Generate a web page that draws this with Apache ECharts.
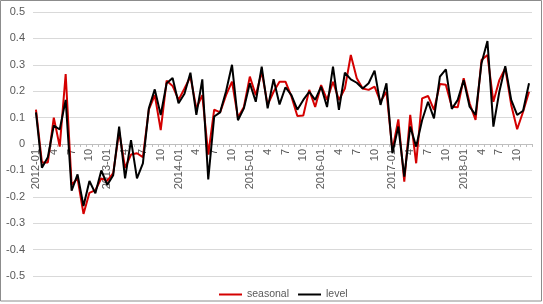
<!DOCTYPE html>
<html>
<head>
<meta charset="utf-8">
<script src="https://cdn.jsdelivr.net/npm/echarts@6/dist/echarts.min.js"></script>
<style>
html,body{margin:0;padding:0;background:#fff;}
#c{width:543px;height:304px;}
</style>
</head>
<body>
<div id="c"></div>
<script>
const years = [2012, 2013, 2014, 2015, 2016, 2017, 2018];
const monthLabels = ['01','2','3','4','5','6','7','8','9','10','11','12'];

const seasonal = [
  0.13, -0.07, -0.07, 0.10, -0.01, 0.265, -0.155, -0.13, -0.265, -0.185, -0.175, -0.13,
  -0.14, -0.11, 0.047, -0.09, -0.04, -0.035, -0.05, 0.13, 0.185, 0.053, 0.24, 0.22,
  0.167, 0.21, 0.255, 0.135, 0.185, -0.04, 0.13, 0.12, 0.185, 0.236, 0.10, 0.14,
  0.255, 0.185, 0.274, 0.148, 0.198, 0.236, 0.236, 0.18, 0.106, 0.108, 0.205, 0.14,
  0.223, 0.167, 0.236, 0.167, 0.21, 0.337, 0.249, 0.21, 0.205, 0.217, 0.16, 0.198,
  -0.023, 0.093, -0.143, 0.11, -0.073, 0.173, 0.182, 0.129, 0.227, 0.224, 0.141, 0.139,
  0.249, 0.154, 0.091, 0.318, 0.337, 0.16, 0.242, 0.287, 0.148, 0.056, 0.122, 0.198
];

const level = [
  0.12, -0.09, -0.05, 0.07, 0.055, 0.167, -0.177, -0.115, -0.235, -0.14, -0.187, -0.10,
  -0.155, -0.118, 0.066, -0.13, 0.015, -0.13, -0.073, 0.135, 0.207, 0.11, 0.23, 0.25,
  0.154, 0.19, 0.27, 0.11, 0.245, -0.134, 0.104, 0.12, 0.20, 0.30, 0.09, 0.135,
  0.23, 0.16, 0.293, 0.135, 0.245, 0.15, 0.215, 0.185, 0.13, 0.167, 0.198, 0.167,
  0.217, 0.14, 0.293, 0.129, 0.27, 0.245, 0.232, 0.21, 0.23, 0.278, 0.148, 0.23,
  -0.035, 0.066, -0.124, 0.066, -0.01, 0.09, 0.16, 0.097, 0.255, 0.283, 0.133, 0.167,
  0.242, 0.141, 0.11, 0.306, 0.39, 0.066, 0.198, 0.295, 0.167, 0.11, 0.126, 0.23
];

const categories = [];
years.forEach(y => monthLabels.forEach((m, k) => categories.push(k === 0 ? y + '-' + m : m)));

const GRID_TOP = 12, GRID_BOTTOM = 28, H = 304;
const plotH = H - GRID_TOP - GRID_BOTTOM;
const Y_MIN = -0.5, Y_MAX = 0.5;
// distance from plot bottom up to the zero line
const zeroOffset = plotH * (0 - Y_MIN) / (Y_MAX - Y_MIN);

const chart = echarts.init(document.getElementById('c'));
const font = "'Liberation Sans', Arial, sans-serif";
chart.setOption({
  animation: false,
  backgroundColor: '#fff',
  graphic: [{
    type: 'rect', silent: true, z: -1,
    shape: { x: 0.5, y: 0.5, width: 541, height: 300.5 },
    style: { fill: 'none', stroke: '#8c8c8c', lineWidth: 1 }
  }],
  grid: { left: 33, right: 11, top: GRID_TOP, bottom: GRID_BOTTOM, containLabel: false, outerBoundsMode: 'none' },
  legend: {
    top: 284, left: 214,
    icon: 'rect', itemWidth: 23, itemHeight: 2, itemGap: 9,
    textStyle: { color: '#595959', fontSize: 10.5, fontFamily: font },
    data: ['seasonal', 'level']
  },
  xAxis: {
    type: 'category',
    data: categories,
    boundaryGap: true,
    position: 'bottom',
    offset: -zeroOffset,
    axisLine: { onZero: false, lineStyle: { color: '#bfbfbf' } },
    axisTick: { show: true, interval: 0, length: 3, lineStyle: { color: '#bfbfbf' } },
    axisLabel: { interval: 2, rotate: 90, color: '#595959', fontSize: 11, fontFamily: font, margin: 5 }
  },
  yAxis: {
    type: 'value',
    min: Y_MIN, max: Y_MAX, interval: 0.1,
    axisLine: { show: false },
    axisTick: { show: false },
    axisLabel: {
      color: '#595959', fontSize: 11, fontFamily: font, margin: 8,
      formatter: v => (Math.round(v * 10) / 10).toString()
    },
    splitLine: { lineStyle: { color: '#d9d9d9' } }
  },
  series: [
    { name: 'seasonal', type: 'line', data: seasonal, symbol: 'none', color: '#d40000',
      lineStyle: { width: 2, color: '#d40000' }, z: 2 },
    { name: 'level', type: 'line', data: level, symbol: 'none', color: '#000000',
      lineStyle: { width: 2, color: '#000000' }, z: 3 }
  ]
});
</script>
</body>
</html>
